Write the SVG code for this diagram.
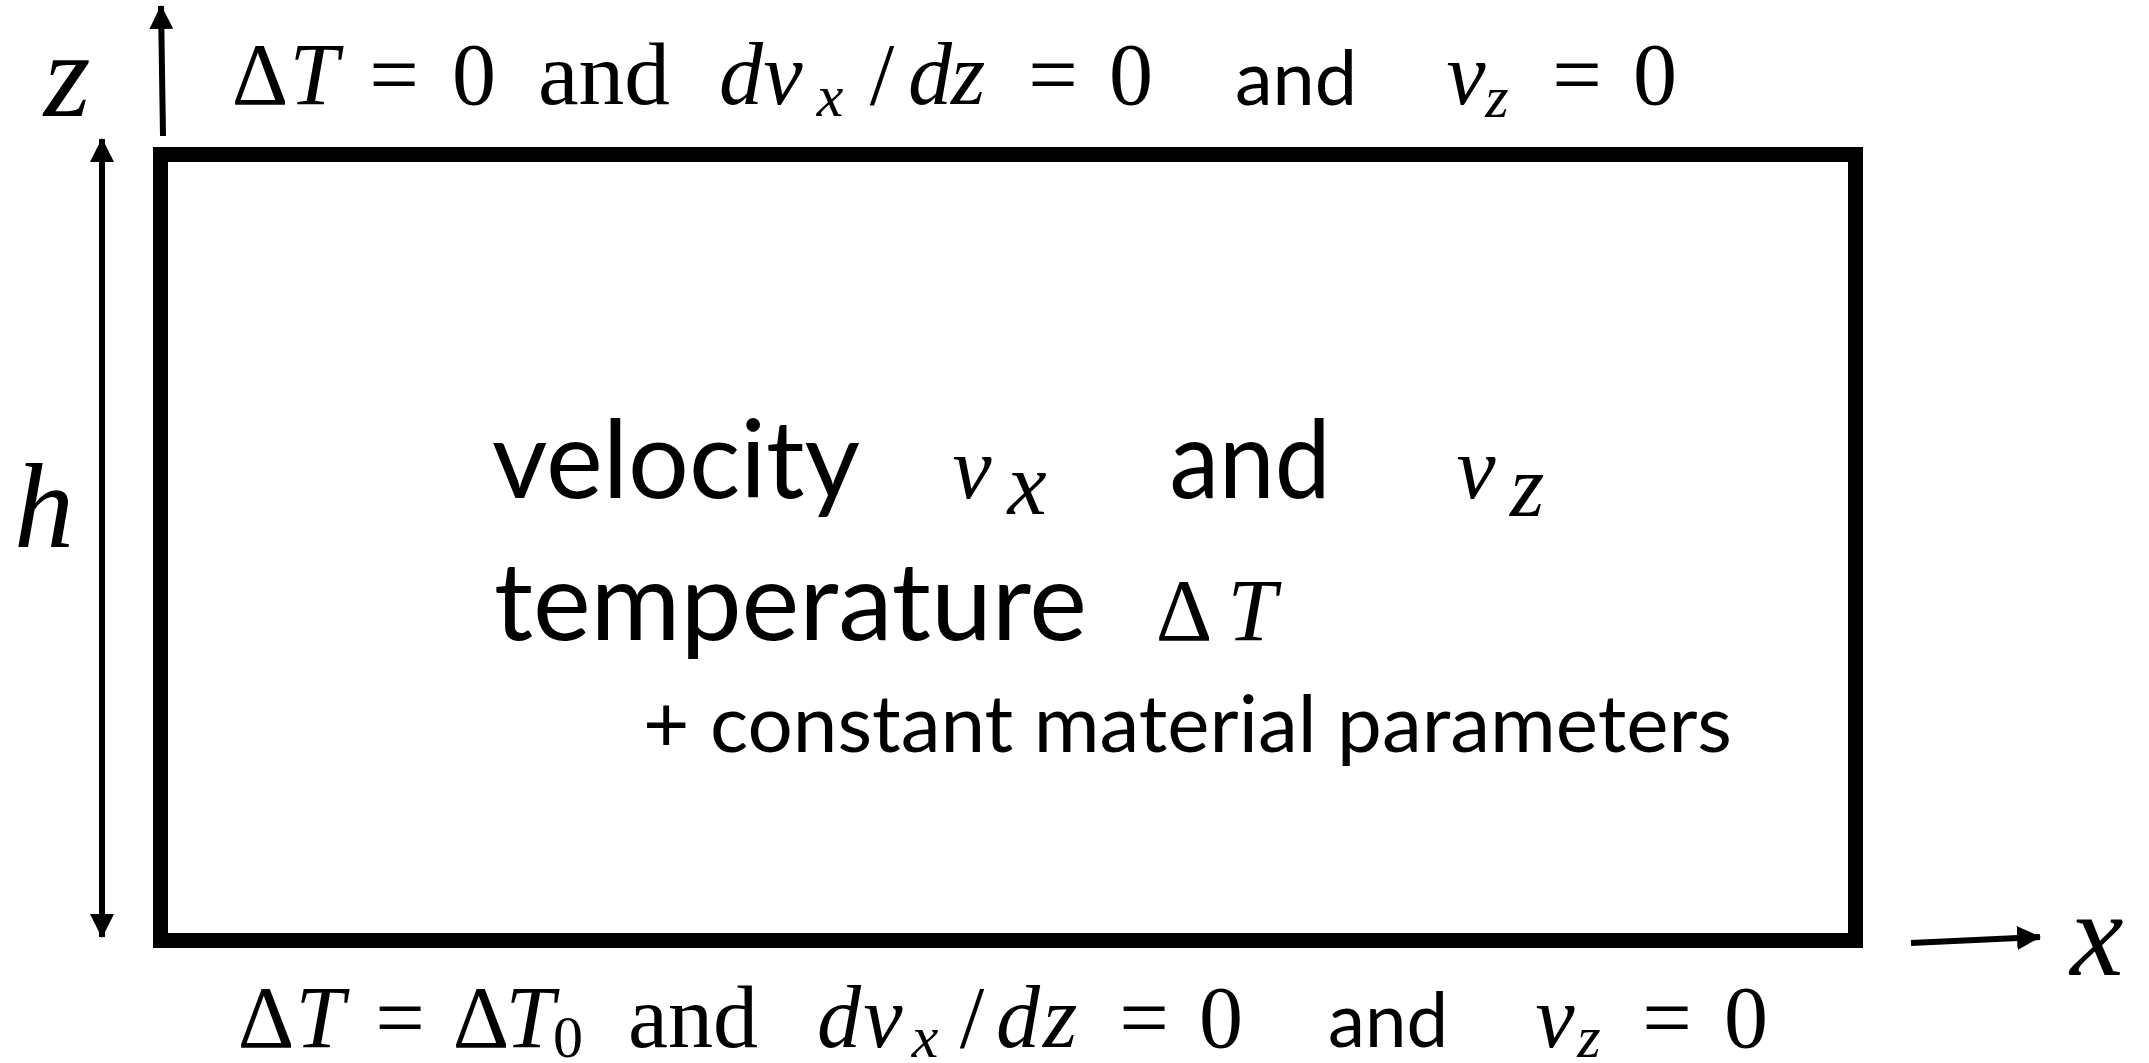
<svg xmlns="http://www.w3.org/2000/svg" width="2149" height="1063" viewBox="0 0 2149 1063">
<style>
.m{font-family:"Liberation Serif",serif;font-size:88px;fill:#000;text-anchor:middle}
.i{font-style:italic}
.sub{font-size:60px}
.s{font-family:Lato,"Open Sans",sans-serif;fill:#000}
.big{font-size:120px}
.ax{stroke:#000;stroke-width:6;fill:none}
</style>
<defs>
<marker id="ah" markerUnits="userSpaceOnUse" markerWidth="24" markerHeight="24" refX="23" refY="12" orient="auto-start-reverse" viewBox="0 0 24 24">
<path d="M0,0 L24,12 L0,24 z" fill="#000"/>
</marker>
</defs>
<rect width="2149" height="1063" fill="#fff"/>
<g id="box">
<rect x="160.5" y="154.5" width="1695" height="786" fill="none" stroke="#000" stroke-width="15"/>
</g>
<g id="connectors">
<line class="ax" x1="163" y1="136" x2="161" y2="6" marker-end="url(#ah)"/>
<line class="ax" x1="102" y1="139" x2="102" y2="937" marker-start="url(#ah)" marker-end="url(#ah)"/>
<line class="ax" x1="1911" y1="943" x2="2040" y2="937" marker-end="url(#ah)"/>
</g>
<g id="axis-labels">
<text class="m i big" x="67" y="116">z</text>
<text class="m i big" x="44" y="547">h</text>
<text class="m i big" x="2097" y="975">x</text>
</g>
<g id="top-bc">
<text class="m" x="260" y="104">Δ</text>
<text class="m i" x="314" y="104">T</text>
<text class="m" x="394" y="104">=</text>
<text class="m" x="474" y="104">0</text>
<text class="m" x="604" y="104" textLength="132" lengthAdjust="spacingAndGlyphs">and</text>
<text class="m i" x="741" y="104">d</text>
<text class="m i" x="783" y="104">v</text>
<text class="m i sub" x="830" y="116">x</text>
<text class="m" x="882" y="104">/</text>
<text class="m i" x="930" y="104">d</text>
<text class="m i" x="968" y="104">z</text>
<text class="m" x="1053" y="104">=</text>
<text class="m" x="1131" y="104">0</text>
<text class="s" x="1296" y="105" font-size="76" text-anchor="middle" textLength="122" lengthAdjust="spacingAndGlyphs">and</text>
<text class="m i" x="1466" y="104">v</text>
<text class="m i sub" x="1497" y="117">z</text>
<text class="m" x="1577" y="104">=</text>
<text class="m" x="1655" y="104">0</text>
</g>
<g id="bottom-bc">
<text class="m" x="266" y="1047">Δ</text>
<text class="m i" x="320" y="1047">T</text>
<text class="m" x="400" y="1047">=</text>
<text class="m" x="481" y="1047">Δ</text>
<text class="m i" x="530" y="1047">T</text>
<text class="m sub" x="568" y="1057">0</text>
<text class="m" x="693" y="1047" textLength="130" lengthAdjust="spacingAndGlyphs">and</text>
<text class="m i" x="839" y="1047">d</text>
<text class="m i" x="883" y="1047">v</text>
<text class="m i sub" x="925" y="1057">x</text>
<text class="m" x="972" y="1047">/</text>
<text class="m i" x="1018" y="1047">d</text>
<text class="m i" x="1060" y="1047">z</text>
<text class="m" x="1144" y="1047">=</text>
<text class="m" x="1221" y="1047">0</text>
<text class="s" x="1388" y="1047" font-size="76" text-anchor="middle" textLength="120" lengthAdjust="spacingAndGlyphs">and</text>
<text class="m i" x="1555" y="1047">v</text>
<text class="m i sub" x="1589" y="1057">z</text>
<text class="m" x="1667" y="1047">=</text>
<text class="m" x="1746" y="1047">0</text>
</g>
<g id="fields">
<text class="s" x="492" y="498" font-size="108" textLength="368" lengthAdjust="spacingAndGlyphs">velocity</text>
<text class="m i" x="972" y="498" font-size="132">v</text>
<text class="m i" x="1027" y="514" font-size="80">x</text>
<text class="s" x="1250" y="498" font-size="108" text-anchor="middle" textLength="161" lengthAdjust="spacingAndGlyphs">and</text>
<text class="m i" x="1476" y="498" font-size="132">v</text>
<text class="m i" x="1527" y="516" font-size="80">z</text>
<text class="s" x="494" y="640" font-size="108" textLength="593" lengthAdjust="spacingAndGlyphs">temperature</text>
<text class="m" x="1184" y="640" font-size="120">Δ</text>
<text class="m i" x="1252" y="640" font-size="120">T</text>
<text class="s" x="643" y="752" font-size="80" textLength="1089" lengthAdjust="spacingAndGlyphs">+ constant material parameters</text>
</g>
</svg>
